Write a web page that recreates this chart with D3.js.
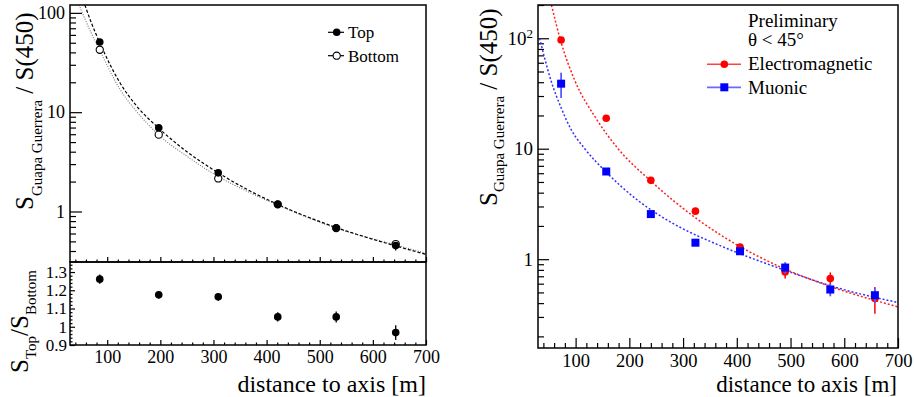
<!DOCTYPE html>
<html lang="en">
<head>
<meta charset="UTF-8">
<title>Guapa Guerrera signal vs distance</title>
<script src="https://cdn.jsdelivr.net/npm/d3@7"></script>
<style>
  body { margin: 0; background: #fff; }
  svg { display: block; font-family: "Liberation Serif", "Times New Roman", serif; }
  .axis line { stroke: #000; stroke-width: 1.2; }
  .axis text { font-family: "Liberation Serif", "Times New Roman", serif; fill: #000; }
  .frame { fill: none; stroke: #000; stroke-width: 1.5; }
</style>
</head>
<body>
<div id="chart"></div>
<script>
// ---- left panel: top vs bottom detector ----
const leftDist = [86, 197, 309, 421, 531, 643];
const topSignal = [50.8, 6.98, 2.45, 1.18, 0.68, 0.455];
const topErr = [0, 0, 0, 0, 0, 0.05];
const bottomSignal = [42.5, 5.94, 2.15, 1.18, 0.68, 0.47];
const ratio = [1.261, 1.175, 1.164, 1.054, 1.054, 0.968];
const ratioErr = [0.025, 0.02, 0.02, 0.025, 0.03, 0.04];

// fit curves
const topFitDist = [58, 70, 86, 124, 155, 197, 250, 309, 365, 421, 531, 643, 700];
const topFitVal = [120, 80, 50, 19.8, 11.6, 6.9, 4.0, 2.45, 1.65, 1.18, 0.69, 0.45, 0.37];
const bottomFitDist = [47, 70, 86, 124, 155, 197, 250, 309, 365, 421, 531, 643, 700];
const bottomFitVal = [120, 62.5, 42, 17, 10.2, 5.9, 3.6, 2.25, 1.58, 1.16, 0.68, 0.46, 0.38];

// ---- right panel: electromagnetic vs muonic ----
const rightDist = [73, 157, 240, 323, 406, 490, 574, 657];
const emSignal = [96.5, 18.9, 5.17, 2.72, 1.29, 0.767, 0.668, 0.44];
const emErr = [0, 0, 0, 0.1, 0.06, 0.1, 0.09, 0.12];
const muSignal = [38.8, 6.22, 2.56, 1.41, 1.18, 0.84, 0.531, 0.472];
const muErr = [10, 0.3, 0, 0.05, 0.05, 0.1, 0.07, 0.07];

const emFitDist = [55, 73.5, 98, 139, 179, 240, 324, 406, 481, 568, 700];
const emFitVal = [200, 90, 42, 18.5, 10, 5.1, 2.35, 1.3, 0.85, 0.58, 0.37];
const muFitDist = [33, 42.4, 54.8, 73.5, 92, 117, 156, 216, 278, 365, 406, 491, 574, 700];
const muFitVal = [100, 66, 40.5, 23.2, 14.8, 10, 6.2, 3.4, 2.15, 1.35, 1.12, 0.79, 0.575, 0.405];

const xTickLabels = [100, 200, 300, 400, 500, 600, 700];
const ratioTickLabels = [0.9, 1, 1.1, 1.2, 1.3];
const logTickLabels = [1, 10, 100];

const svg = d3.select("#chart").append("svg")
    .attr("width", 914).attr("height", 397);
svg.append("rect").attr("width", 914).attr("height", 397).attr("fill", "#fff");

// scales
const xL = d3.scaleLinear().domain([30, 700]).range([70, 426]);
const yL = d3.scaleLog().domain([0.31, 120]).range([262, 5]);
const yRatio = d3.scaleLinear().domain([0.9, 1.355]).range([345, 262]);
const xR = d3.scaleLinear().domain([30, 700]).range([538, 898]);
const yR = d3.scaleLog().domain([0.157, 200]).range([348, 5]);

const xMinor = d3.range(40, 701, 20).filter(v => v % 100 !== 0);
const notDecade = v => Math.abs(Math.log10(v) - Math.round(Math.log10(v))) > 1e-6;
const ratioMinor = d3.range(0.92, 1.35, 0.02).filter(v => Math.abs(v * 10 - Math.round(v * 10)) > 1e-6);

function addAxis(axis, tx, ty, size) {
    const g = svg.append("g").attr("class", "axis")
        .attr("transform", `translate(${tx},${ty})`)
        .call(axis);
    g.select(".domain").remove();
    g.selectAll("text").style("font-size", size + "px");
    return g;
}

// ---- left top axes ----
addAxis(d3.axisLeft(yL).tickValues(logTickLabels).tickSize(-12).tickPadding(5).tickFormat(d3.format("d")), 70, 0, 18);
addAxis(d3.axisLeft(yL).tickValues(yL.ticks().filter(notDecade)).tickSize(-6).tickFormat(""), 70, 0, 18);
addAxis(d3.axisBottom(xL).tickValues(xTickLabels).tickSize(-5).tickFormat(""), 0, 262, 18);
addAxis(d3.axisBottom(xL).tickValues(xMinor).tickSize(-2.5).tickFormat(""), 0, 262, 18);

// ---- left ratio axes ----
addAxis(d3.axisLeft(yRatio).tickValues(ratioTickLabels).tickSize(-5).tickPadding(3)
    .tickFormat(d => d === 1 ? "1" : d3.format(".1f")(d)), 70, 0, 17);
addAxis(d3.axisLeft(yRatio).tickValues(ratioMinor).tickSize(-2.5).tickFormat(""), 70, 0, 17);
addAxis(d3.axisBottom(xL).tickValues(xTickLabels).tickSize(-5).tickPadding(5), 0, 345, 18);
addAxis(d3.axisBottom(xL).tickValues(xMinor).tickSize(-2.5).tickFormat(""), 0, 345, 18);

// ---- right axes ----
const yRaxis = addAxis(d3.axisLeft(yR).tickValues(logTickLabels).tickSize(-11).tickPadding(5).tickFormat(d3.format("d")), 538, 0, 19);
yRaxis.selectAll(".tick text").filter(d => d === 100).text("10")
    .append("tspan").attr("dy", "-0.5em").style("font-size", "13px").text("2");
addAxis(d3.axisLeft(yR).tickValues(yR.ticks().filter(notDecade)).tickSize(-6).tickFormat(""), 538, 0, 19);
addAxis(d3.axisBottom(xR).tickValues(xTickLabels).tickSize(-10).tickPadding(6), 0, 348, 18.5);
addAxis(d3.axisBottom(xR).tickValues(xMinor).tickSize(-5).tickFormat(""), 0, 348, 18.5);

// clip regions
const defs = svg.append("defs");
defs.append("clipPath").attr("id", "clipL").append("rect")
    .attr("x", 70).attr("y", 5).attr("width", 356).attr("height", 257);
defs.append("clipPath").attr("id", "clipR").append("rect")
    .attr("x", 538).attr("y", 5).attr("width", 360).attr("height", 343);

// ---- fits ----
const lineL = d3.line().x(d => xL(d[0])).y(d => yL(d[1])).curve(d3.curveMonotoneX);
const lineR = d3.line().x(d => xR(d[0])).y(d => yR(d[1])).curve(d3.curveMonotoneX);

svg.append("path").datum(d3.zip(bottomFitDist, bottomFitVal))
    .attr("clip-path", "url(#clipL)").attr("d", lineL)
    .attr("fill", "none").attr("stroke", "#777").attr("stroke-width", 1.1).attr("stroke-dasharray", "1,1.5");
svg.append("path").datum(d3.zip(topFitDist, topFitVal))
    .attr("clip-path", "url(#clipL)").attr("d", lineL)
    .attr("fill", "none").attr("stroke", "#000").attr("stroke-width", 1.2).attr("stroke-dasharray", "3,2");

svg.append("path").datum(d3.zip(muFitDist, muFitVal))
    .attr("clip-path", "url(#clipR)").attr("d", lineR)
    .attr("fill", "none").attr("stroke", "#3030ff").attr("stroke-width", 1.5).attr("stroke-dasharray", "2,2");
svg.append("path").datum(d3.zip(emFitDist, emFitVal))
    .attr("clip-path", "url(#clipR)").attr("d", lineR)
    .attr("fill", "none").attr("stroke", "#ff2020").attr("stroke-width", 1.5).attr("stroke-dasharray", "2,2");

// ---- left points ----
const topPts = leftDist.map((d, i) => ({x: d, y: topSignal[i], e: topErr[i]}));
const botPts = leftDist.map((d, i) => ({x: d, y: bottomSignal[i]}));
const ratioPts = leftDist.map((d, i) => ({x: d, y: ratio[i], e: ratioErr[i]}));

svg.append("g").selectAll("line").data(topPts.filter(p => p.e > 0)).join("line")
    .attr("x1", d => xL(d.x)).attr("x2", d => xL(d.x))
    .attr("y1", d => yL(d.y - d.e)).attr("y2", d => yL(d.y + d.e))
    .attr("stroke", "#000").attr("stroke-width", 1.3);
svg.append("g").selectAll("circle").data(botPts).join("circle")
    .attr("cx", d => xL(d.x)).attr("cy", d => yL(d.y)).attr("r", 3.6)
    .attr("fill", "#fff").attr("stroke", "#000").attr("stroke-width", 1.1);
svg.append("g").selectAll("circle").data(topPts).join("circle")
    .attr("cx", d => xL(d.x)).attr("cy", d => yL(d.y)).attr("r", 3.8).attr("fill", "#000");

svg.append("g").selectAll("line").data(ratioPts).join("line")
    .attr("x1", d => xL(d.x)).attr("x2", d => xL(d.x))
    .attr("y1", d => yRatio(d.y - d.e)).attr("y2", d => yRatio(d.y + d.e))
    .attr("stroke", "#000").attr("stroke-width", 1.3);
svg.append("g").selectAll("circle").data(ratioPts).join("circle")
    .attr("cx", d => xL(d.x)).attr("cy", d => yRatio(d.y)).attr("r", 3.8).attr("fill", "#000");

// ---- right points ----
const emPts = rightDist.map((d, i) => ({x: d, y: emSignal[i], e: emErr[i]}));
const muPts = rightDist.map((d, i) => ({x: d, y: muSignal[i], e: muErr[i]}));

svg.append("g").selectAll("line").data(emPts.filter(p => p.e > 0)).join("line")
    .attr("x1", d => xR(d.x)).attr("x2", d => xR(d.x))
    .attr("y1", d => yR(d.y - d.e)).attr("y2", d => yR(d.y + d.e))
    .attr("stroke", "#f00").attr("stroke-width", 1.5);
svg.append("g").selectAll("circle").data(emPts).join("circle")
    .attr("cx", d => xR(d.x)).attr("cy", d => yR(d.y)).attr("r", 3.8).attr("fill", "#f00");

svg.append("g").selectAll("line").data(muPts.filter(p => p.e > 0)).join("line")
    .attr("x1", d => xR(d.x)).attr("x2", d => xR(d.x))
    .attr("y1", d => yR(d.y - d.e)).attr("y2", d => yR(d.y + d.e))
    .attr("stroke", "#5a5aff").attr("stroke-width", 1.8);
svg.append("g").selectAll("rect").data(muPts).join("rect")
    .attr("x", d => xR(d.x) - 4).attr("y", d => yR(d.y) - 4)
    .attr("width", 8).attr("height", 8).attr("fill", "#00f");

// ---- frames ----
svg.append("rect").attr("class", "frame").attr("x", 70).attr("y", 5).attr("width", 356).attr("height", 257);
svg.append("rect").attr("class", "frame").attr("x", 70).attr("y", 262).attr("width", 356).attr("height", 83);
svg.append("rect").attr("class", "frame").attr("x", 538).attr("y", 5).attr("width", 360).attr("height", 343);

// ---- titles ----
function yTitle(x, y, parts) {
    const t = svg.append("text").attr("transform", `translate(${x},${y}) rotate(-90)`)
        .style("white-space", "pre").attr("fill", "#000");
    parts.forEach(p => t.append("tspan").attr("dy", p.dy).style("font-size", p.size + "px").text(p.text));
}
yTitle(33, 210, [
    {text: "S", size: 25, dy: 0},
    {text: "Guapa Guerrera", size: 15, dy: 9},
    {text: " / S(450)", size: 25, dy: -9}
]);
yTitle(28, 373, [
    {text: "S", size: 25, dy: 0},
    {text: "Top", size: 15, dy: 8},
    {text: "/S", size: 25, dy: -8},
    {text: "Bottom", size: 15, dy: 8}
]);
yTitle(497, 206, [
    {text: "S", size: 25, dy: 0},
    {text: "Guapa Guerrera", size: 15, dy: 7},
    {text: " / S(450)", size: 25, dy: -7}
]);

svg.append("text").attr("x", 426).attr("y", 392).attr("text-anchor", "end")
    .style("font-size", "24px").text("distance to axis [m]");
svg.append("text").attr("x", 897).attr("y", 392).attr("text-anchor", "end")
    .style("font-size", "23px").text("distance to axis [m]");

// ---- legends ----
const legL = svg.append("g");
legL.append("line").attr("x1", 328).attr("x2", 344).attr("y1", 32.3).attr("y2", 32.3).attr("stroke", "#000").attr("stroke-width", 1.2);
legL.append("circle").attr("cx", 336.7).attr("cy", 32.3).attr("r", 3.8).attr("fill", "#000");
legL.append("text").attr("x", 348).attr("y", 38).style("font-size", "17px").text("Top");
legL.append("line").attr("x1", 328).attr("x2", 344).attr("y1", 55.7).attr("y2", 55.7).attr("stroke", "#000").attr("stroke-width", 1.2);
legL.append("circle").attr("cx", 336.7).attr("cy", 55.7).attr("r", 3.6).attr("fill", "#fff").attr("stroke", "#000").attr("stroke-width", 1.1);
legL.append("text").attr("x", 348).attr("y", 61.5).style("font-size", "17px").text("Bottom");

const legR = svg.append("g").style("font-size", "19px");
legR.append("text").attr("x", 748).attr("y", 27).text("Preliminary");
legR.append("text").attr("x", 748).attr("y", 46).text("θ < 45°");
legR.append("line").attr("x1", 707).attr("x2", 741).attr("y1", 64.3).attr("y2", 64.3).attr("stroke", "#ff4040").attr("stroke-width", 1.5);
legR.append("circle").attr("cx", 724.3).attr("cy", 64.3).attr("r", 3.8).attr("fill", "#f00");
legR.append("text").attr("x", 748).attr("y", 70).text("Electromagnetic");
legR.append("line").attr("x1", 707).attr("x2", 741).attr("y1", 87.3).attr("y2", 87.3).attr("stroke", "#6a6aff").attr("stroke-width", 1.8);
legR.append("rect").attr("x", 720.3).attr("y", 83.3).attr("width", 8).attr("height", 8).attr("fill", "#00f");
legR.append("text").attr("x", 748).attr("y", 94).text("Muonic");
</script>
</body>
</html>
